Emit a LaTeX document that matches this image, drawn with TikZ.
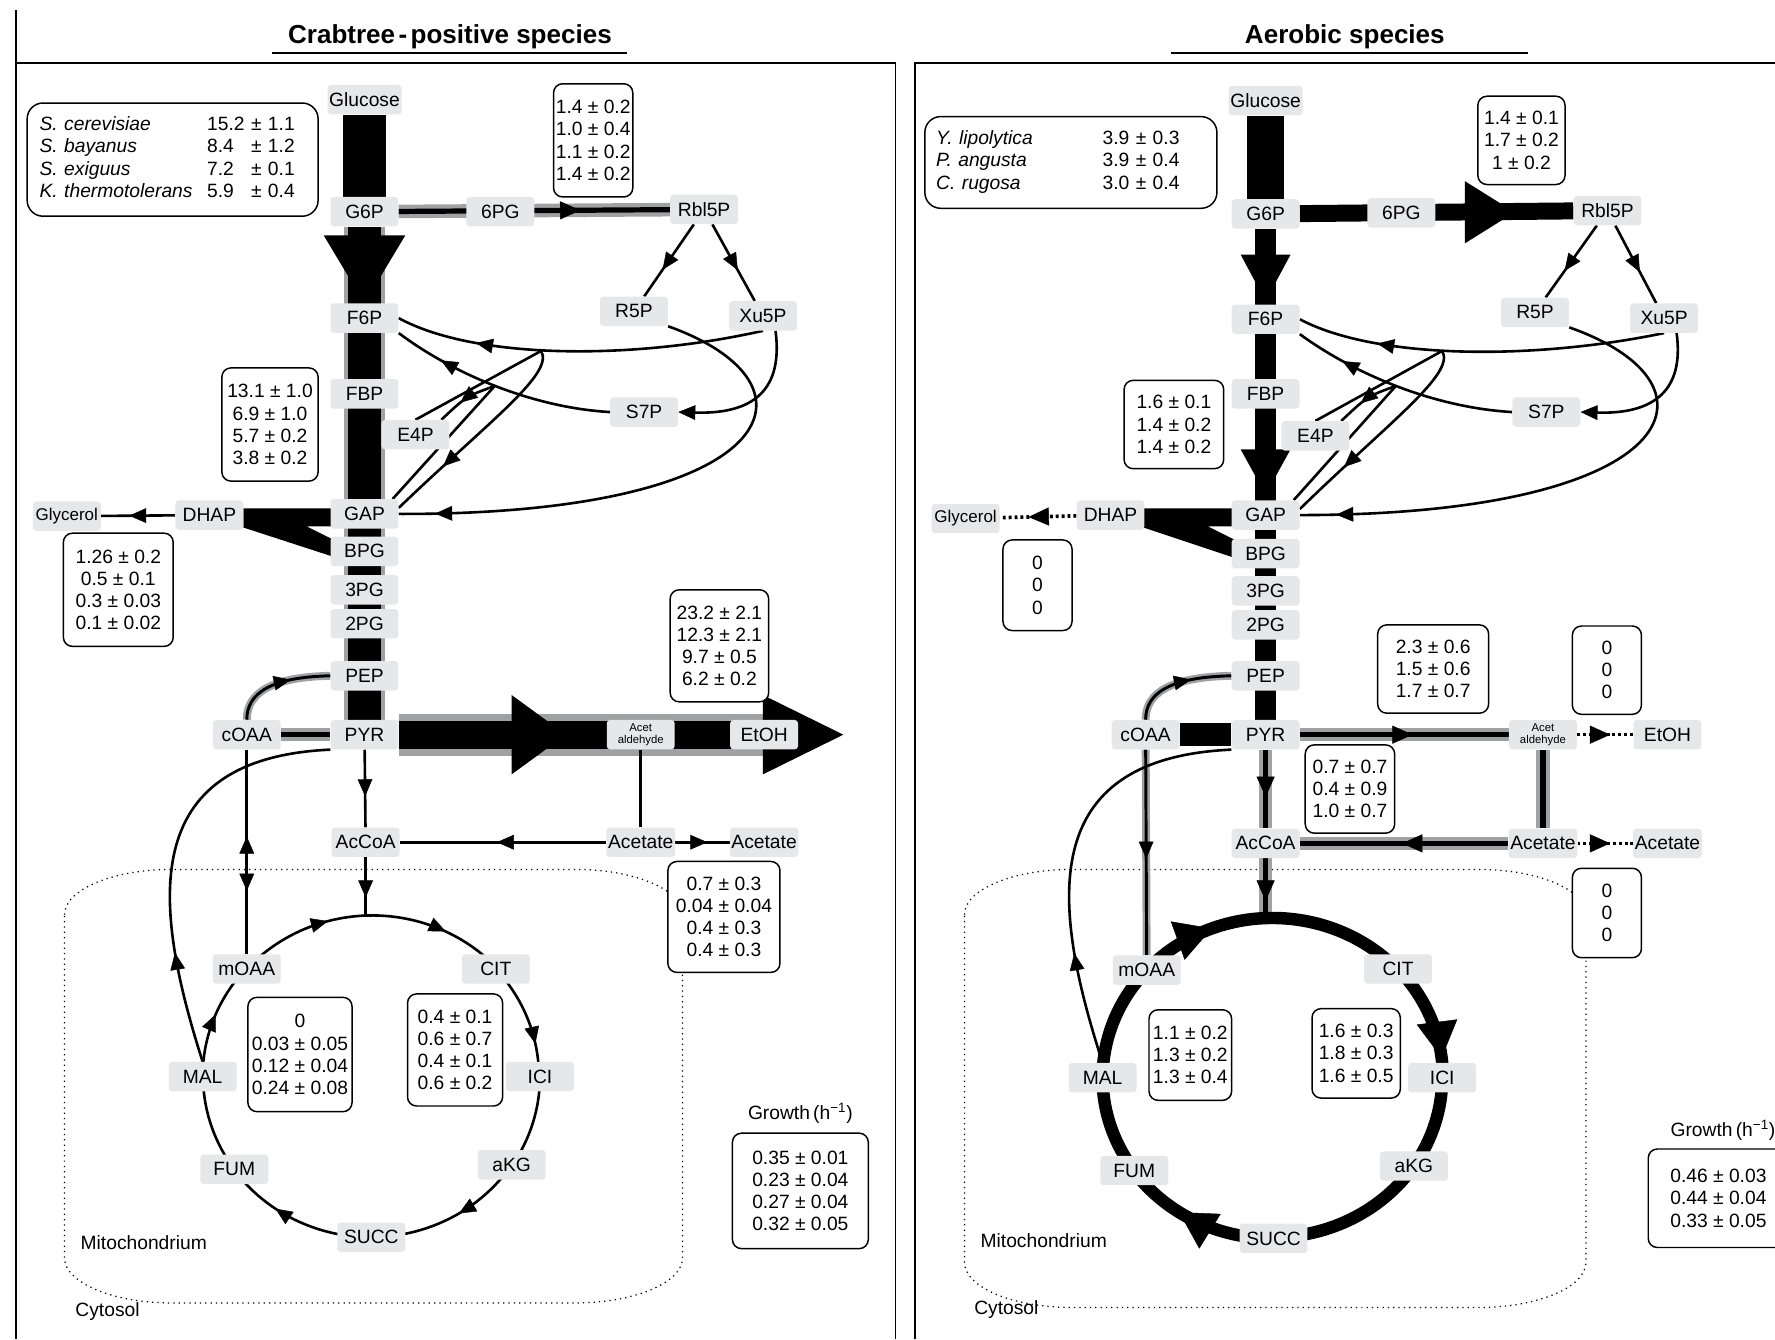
\documentclass[tikz,border=0pt]{standalone}
\usepackage{fontspec}
\setmainfont{Liberation Sans}
\usetikzlibrary{arrows.meta,decorations.markings}
\pgfdeclarelayer{bg}
\pgfsetlayers{bg,main}
\definecolor{labgray}{RGB}{230,231,232}
\definecolor{fluxgray}{RGB}{160,161,163}
\newcommand\fsz{\fontsize{17}{19.6}\selectfont}
\newcommand\pppnet[1]{%
  \coordinate (#1JA) at (478,310);
  \coordinate (#1JB) at (437,341);
  \draw[cn,a1,ma=0.63] (#1Rbl) -- (#1R5P);
  \draw[cn,a1,ma=0.6] (#1Rbl) -- (#1Xu5P);
  \draw[cn,a1,ma=0.78] (#1Xu5P.south) .. controls (560,318) and (420,318) .. (#1F6P.east);
  \draw[cn,a1,ma=0.78] (#1S7P.west) .. controls (470,360) and (400,330) .. (#1F6P.south east);
  \draw[cn,a1,->] (#1Xu5P.-50) .. controls (692,345) and (665,366) .. (#1S7P.east);
  \draw[cn,a1,ma=0.93] (#1R5P.south east) .. controls (735,340) and (690,455) .. (#1GAP.east);
  \draw[cn] (#1E4P.north) -- (#1JA);
  \draw[cn,a1,ma=0.72] (#1JA) .. controls (490,330) and (432,372) .. (#1GAP.10);
  \draw[cn] (#1GAP.28) -- (#1JB);
  \draw[cn,a1,ma=0.6] (#1JB) .. controls (412,350) .. (#1E4P.30);
}
\begin{document}
\begin{tikzpicture}[x=1pt,y=-1pt,
  lab/.style={fill=labgray,rounded corners=3pt,minimum width=60pt,minimum height=26pt,inner sep=1.5pt,font=\fsz},
  vb/.style={draw,line width=1.3pt,rounded corners=8pt,fill=white,align=center,inner sep=0pt,font=\fsz},
  cn/.style={draw,line width=2.3pt},
  gc/.style={draw,line width=4.6pt,preaction={draw=fluxgray,line width=12pt}},
  gct/.style={draw,line width=2.6pt,preaction={draw=fluxgray,line width=7pt}},
  dt/.style={draw,line width=3.2pt,dash pattern=on 2.6pt off 2.6pt},
  thk/.style={draw,line width=11pt},
  a1/.style={>={Triangle[length=15pt,width=13pt,line width=0.4pt]}},
  a2/.style={>={Triangle[length=18pt,width=16pt,line width=0.4pt]}},
  a3/.style={>={Triangle[length=32pt,width=36pt,line width=0.4pt]}},
  ma/.style={postaction={decorate,decoration={markings,mark=at position #1 with {\arrow{>}}}}},
  mr/.style={postaction={decorate,decoration={markings,mark=at position #1 with {\arrowreversed{>}}}}},
  mito/.style={draw,line width=1.1pt,dash pattern=on 1.1pt off 3.6pt},
  pframe/.style={draw,line width=1.6pt},
  txt/.style={font=\fsz},
  ttl/.style={font=\fontsize{23}{27}\selectfont\bfseries},
  glyc/.style={lab,font=\fontsize{15}{16}\selectfont},
]
\useasboundingbox (0,0) rectangle (1568,1183);
\clip (0,0) rectangle (1568,1183);

% ---------- frames and titles
\draw[pframe] (14,9) -- (14,1183);
\draw[pframe] (14,56) -- (791,56) -- (791,1183);
\draw[pframe] (808,1183) -- (808,56) -- (1568,56);
\node[ttl,anchor=base] (Lt) at (397.5,38) {Crabtree\hspace{3pt}-\hspace{3pt}positive species};
\node[ttl,anchor=base] (Rt) at (1188,38) {Aerobic species};
\draw[line width=1.8pt] (240,46.5) -- (554,46.5);
\draw[line width=1.8pt] (1034,46.5) -- (1350,46.5);

% ---------- left panel metabolite nodes
\node[lab] (LGlc) at (322,88) {Glucose};
\node[lab] (LG6P) at (322,187) {G6P};
\node[lab] (L6PG) at (442,187) {6PG};
\node[lab] (LRbl) at (622,185) {Rbl5P};
\node[lab] (LR5P) at (560,275) {R5P};
\node[lab] (LXu5P) at (674,279) {Xu5P};
\node[lab] (LF6P) at (322,281) {F6P};
\node[lab] (LFBP) at (322,348) {FBP};
\node[lab] (LS7P) at (569,364) {S7P};
\node[lab] (LE4P) at (367,384) {E4P};
\node[lab] (LGAP) at (322,454) {GAP};
\node[lab] (LDHAP) at (185,455) {DHAP};
\node[glyc] (LGly) at (59,456) {Glycerol};
\node[lab] (LBPG) at (322,487) {BPG};
\node[lab] (L3PG) at (322,521) {3PG};
\node[lab] (L2PG) at (322,551) {2PG};
\node[lab] (LPEP) at (322,597) {PEP};
\node[lab] (LcOAA) at (218,649) {cOAA};
\node[lab] (LPYR) at (322,649) {PYR};
\node[lab,align=center,font=\fontsize{10}{11}\selectfont] (LAcald) at (566,649) {Acet\\aldehyde};
\node[lab] (LEtOH) at (675,649) {EtOH};
\node[lab] (LAcCoA) at (323,744) {AcCoA};
\node[lab] (LAc) at (566,744) {Acetate};
\node[lab] (LAcx) at (675,744) {Acetate};
\node[lab] (LmOAA) at (218,856) {mOAA};
\node[lab] (LCIT) at (438,856) {CIT};
\node[lab] (LMAL) at (179,951) {MAL};
\node[lab] (LICI) at (477,951) {ICI};
\node[lab] (LFUM) at (207,1033) {FUM};
\node[lab] (LaKG) at (452,1029) {aKG};
\node[lab] (LSUCC) at (328,1093) {SUCC};
\coordinate (LTop) at (323,808);
\coordinate (LEtEnd) at (674,649);

% ---------- right panel metabolite nodes
\node[lab] (RGlc) at (1118,89) {Glucose};
\node[lab] (RG6P) at (1118,189) {G6P};
\node[lab] (R6PG) at (1238,188) {6PG};
\node[lab] (RRbl) at (1420,186) {Rbl5P};
\node[lab] (RR5P) at (1356,276) {R5P};
\node[lab] (RXu5P) at (1470,281) {Xu5P};
\node[lab] (RF6P) at (1118,282) {F6P};
\node[lab] (RFBP) at (1118,348) {FBP};
\node[lab] (RS7P) at (1366,364) {S7P};
\node[lab] (RE4P) at (1162,385) {E4P};
\node[lab] (RGAP) at (1118,455) {GAP};
\node[lab] (RDHAP) at (981,455) {DHAP};
\node[glyc] (RGly) at (853,458) {Glycerol};
\node[lab] (RBPG) at (1118,489) {BPG};
\node[lab] (R3PG) at (1118,522) {3PG};
\node[lab] (R2PG) at (1118,552) {2PG};
\node[lab] (RPEP) at (1118,597) {PEP};
\node[lab] (RcOAA) at (1012,649) {cOAA};
\node[lab] (RPYR) at (1118,649) {PYR};
\node[lab,align=center,font=\fontsize{10}{11}\selectfont] (RAcald) at (1363,649) {Acet\\aldehyde};
\node[lab] (REtOH) at (1473,649) {EtOH};
\node[lab] (RAcCoA) at (1118,745) {AcCoA};
\node[lab] (RAc) at (1363,745) {Acetate};
\node[lab] (RAcx) at (1473,745) {Acetate};
\node[lab] (RmOAA) at (1013,857) {mOAA};
\node[lab] (RCIT) at (1235,856) {CIT};
\node[lab] (RMAL) at (974,952) {MAL};
\node[lab] (RICI) at (1274,952) {ICI};
\node[lab] (RFUM) at (1002,1034) {FUM};
\node[lab] (RaKG) at (1249,1030) {aKG};
\node[lab] (RSUCC) at (1125,1094) {SUCC};
\coordinate (RTop) at (1118,811);

% ---------- left value boxes
\node[vb,rounded corners=14pt,minimum width=257pt,minimum height=100pt,text width=235pt,inner xsep=11pt,align=left] (Lsp) at (152.5,141) {%
\begin{tabular}{@{}p{148pt}@{}l@{\ }l@{}}
\textit{S. cerevisiae} & 15.2 & ± 1.1\\
\textit{S. bayanus} & 8.4 & ± 1.2\\
\textit{S. exiguus} & 7.2 & ± 0.1\\
\textit{K. thermotolerans} & 5.9 & ± 0.4
\end{tabular}};
\node[vb,minimum width=70pt,minimum height=100pt] (LvP) at (524,124) {1.4 ± 0.2\\1.0 ± 0.4\\1.1 ± 0.2\\1.4 ± 0.2};
\node[vb,minimum width=85pt,minimum height=100pt] (LvG) at (238.5,375) {13.1 ± 1.0\\6.9 ± 1.0\\5.7 ± 0.2\\3.8 ± 0.2};
\node[vb,minimum width=97pt,minimum height=100pt] (LvY) at (104.5,521) {1.26 ± 0.2\\0.5 ± 0.1\\0.3 ± 0.03\\0.1 ± 0.02};
\node[vb,minimum width=87pt,minimum height=99pt] (LvE) at (635.5,570.5) {23.2 ± 2.1\\12.3 ± 2.1\\9.7 ± 0.5\\6.2 ± 0.2};
\node[vb,minimum width=99pt,minimum height=98pt] (LvA) at (639.5,810) {0.7 ± 0.3\\0.04 ± 0.04\\0.4 ± 0.3\\0.4 ± 0.3};
\node[vb,minimum width=92pt,minimum height=101pt] (LvM) at (265,931.5) {0\\0.03 ± 0.05\\0.12 ± 0.04\\0.24 ± 0.08};
\node[vb,minimum width=84pt,minimum height=99pt] (LvC) at (402,927.5) {0.4 ± 0.1\\0.6 ± 0.7\\0.4 ± 0.1\\0.6 ± 0.2};
\node[vb,minimum width=120pt,minimum height=102pt] (LvR) at (707,1052) {0.35 ± 0.01\\0.23 ± 0.04\\0.27 ± 0.04\\0.32 ± 0.05};
\node[txt,anchor=base] (LGr) at (707,989) {Growth\,(h\textsuperscript{−1})};
\node[font=\fontsize{17}{19}\selectfont,anchor=base] (LMi) at (127,1104) {Mitochondrium};
\node[font=\fontsize{17}{19}\selectfont,anchor=base] (LCy) at (95,1163) {Cytosol};

% ---------- right value boxes
\node[vb,rounded corners=14pt,minimum width=258pt,minimum height=81pt,text width=238pt,inner xsep=10pt,align=left] (Rsp) at (946,143.5) {%
\begin{tabular}{@{}p{147pt}@{}l@{}}
\textit{Y. lipolytica} & 3.9 ± 0.3\\
\textit{P. angusta} & 3.9 ± 0.4\\
\textit{C. rugosa} & 3.0 ± 0.4
\end{tabular}};
\node[vb,minimum width=77pt,minimum height=78pt] (RvP) at (1344,124) {1.4 ± 0.1\\1.7 ± 0.2\\1 ± 0.2};
\node[vb,minimum width=88pt,minimum height=78pt] (RvG) at (1037,375) {1.6 ± 0.1\\1.4 ± 0.2\\1.4 ± 0.2};
\node[vb,minimum width=61pt,minimum height=80pt] (RvY) at (916.5,517) {0\\0\\0};
\node[vb,minimum width=98pt,minimum height=78pt] (RvE) at (1266,591) {2.3 ± 0.6\\1.5 ± 0.6\\1.7 ± 0.7};
\node[vb,minimum width=61pt,minimum height=78pt] (RvE0) at (1419.5,592) {0\\0\\0};
\node[vb,minimum width=79pt,minimum height=78pt] (RvK) at (1192.5,697) {0.7 ± 0.7\\0.4 ± 0.9\\1.0 ± 0.7};
\node[vb,minimum width=61pt,minimum height=79pt] (RvA0) at (1419.5,806.5) {0\\0\\0};
\node[vb,minimum width=73pt,minimum height=80pt] (RvM) at (1051.5,932) {1.1 ± 0.2\\1.3 ± 0.2\\1.3 ± 0.4};
\node[vb,minimum width=78pt,minimum height=79pt] (RvC) at (1198,930.5) {1.6 ± 0.3\\1.8 ± 0.3\\1.6 ± 0.5};
\node[vb,minimum width=124pt,minimum height=87pt] (RvR) at (1518,1058.5) {0.46 ± 0.03\\0.44 ± 0.04\\0.33 ± 0.05};
\node[txt,anchor=base] (RGr) at (1522,1004) {Growth\,(h\textsuperscript{−1})};
\node[font=\fontsize{17}{19}\selectfont,anchor=base] (RMi) at (922,1102) {Mitochondrium};
\node[font=\fontsize{17}{19}\selectfont,anchor=base] (RCy) at (889,1161) {Cytosol};

% ================= connectors (background)
\begin{pgfonlayer}{bg}
% mitochondrion outlines
\draw[mito] (57,808) arc[start angle=180,end angle=270,x radius=95,y radius=40] -- (508,768) arc[start angle=270,end angle=360,x radius=95,y radius=40] -- (603,1111) arc[start angle=0,end angle=90,x radius=95,y radius=40] -- (152,1151) arc[start angle=90,end angle=180,x radius=95,y radius=40] -- cycle;
\draw[mito] (852,808) arc[start angle=180,end angle=270,x radius=95,y radius=40] -- (1306,768) arc[start angle=270,end angle=360,x radius=95,y radius=40] -- (1401,1115) arc[start angle=0,end angle=90,x radius=95,y radius=40] -- (947,1155) arc[start angle=90,end angle=180,x radius=95,y radius=40] -- cycle;

% ----- left glycolysis / fermentation
\draw[line width=38pt] (LGlc) -- (LG6P);
\draw[fluxgray,line width=36pt] (LG6P) -- (LPYR);
\draw[fluxgray,line width=37pt] (LPYR) -- (LEtEnd);
\draw[line width=29pt] (LG6P) -- (LPYR);
\draw[line width=25pt] (LPYR) -- (LEtEnd);
\fill (286,208) -- (358,208) -- (322,268) -- cycle;
\fill (452,614) -- (500,649) -- (452,684) -- cycle;
\fill (674,614) -- (745,649) -- (674,684) -- cycle;
\fill (215,449) -- (295,449) -- (295,465) -- (271,465) -- (295,477) -- (295,492) -- (215,466) -- cycle;
\draw[gc,a2,ma=0.67] (LG6P) -- (LRbl);
\pppnet{L}
\draw[cn,a1,ma=0.62] (LDHAP) -- (LGly);
\draw[gct,a1,ma=0.62] (LcOAA.north) .. controls (218,612) and (240,598) .. (LPEP.west);
\draw[gc] (LcOAA) -- (LPYR);
\draw[cn,a1,ma=0.69,mr=0.425] (LcOAA) -- (LmOAA);
\draw[cn,a1,ma=0.27] (LMAL.north) .. controls (135,800) and (120,670) .. (LPYR.south west);
\draw[cn,a1,ma=0.6] (LPYR) -- (LAcCoA);
\draw[cn,a1,ma=0.7] (LAcCoA) -- (LTop);
\draw[cn] (LAcald) -- (LAc);
\draw[cn,a1,ma=0.53] (LAc) -- (LAcCoA);
\draw[cn,a1,ma=0.59] (LAc) -- (LAcx);
% left TCA cycle
\draw[cn,a1,ma=0.34,ma=0.77] (LmOAA.center) arc[start angle=221.9,end angle=318.1,x radius=149,y radius=142.5];
\draw[cn,a1,ma=0.72] (LCIT.center) arc[start angle=318.1,end angle=360,x radius=149,y radius=142.5];
\draw[cn] (LICI.center) arc[start angle=0,end angle=33.5,x radius=149,y radius=142.5];
\draw[cn,a1,ma=0.44] (LaKG.center) arc[start angle=33.5,end angle=90,x radius=149,y radius=142.5];
\draw[cn,a1,ma=0.64] (LSUCC.center) arc[start angle=90,end angle=144.5,x radius=149,y radius=142.5];
\draw[cn] (LFUM.center) arc[start angle=144.5,end angle=180,x radius=149,y radius=142.5];
\draw[cn,a1,ma=0.54] (LMAL.center) arc[start angle=180,end angle=221.9,x radius=149,y radius=142.5];

% ----- right glycolysis
\draw[line width=32pt] (RGlc) -- (RG6P);
\draw[line width=18pt] (RG6P) -- (RPYR);
\fill (1096,225) -- (1140,225) -- (1118,266) -- cycle;
\fill (1096,397) -- (1140,397) -- (1118,437) -- cycle;
\draw[line width=15pt] (RG6P) -- (RRbl);
\fill (1294,160) -- (1338,187.5) -- (1294,215) -- cycle;
\fill (1010,449) -- (1091,449) -- (1091,465) -- (1067,465) -- (1091,477) -- (1091,493) -- (1010,466) -- cycle;
\begin{scope}[xshift=796pt]
\pppnet{R}
\end{scope}
\draw[dt,a2,ma=0.625] (RDHAP) -- (RGly);
\draw[gct,a1,ma=0.62] (RcOAA.north) .. controls (1012,612) and (1034,598) .. (RPEP.west);
\draw[line width=20pt] (RcOAA) -- (RPYR);
\draw[gct,a1,ma=0.53] (RcOAA) -- (RmOAA);
\draw[cn,a1,ma=0.27] (RMAL.north) .. controls (929,800) and (914,670) .. (RPYR.south west);
\draw[gc,a2,ma=0.54] (RPYR) -- (RAcald);
\draw[dt,a2,ma=0.59] (RAcald) -- (REtOH);
\draw[gc] (RAcald) -- (RAc);
\draw[gc,a2,ma=0.51] (RAc) -- (RAcCoA);
\draw[dt,a2,ma=0.59] (RAc) -- (RAcx);
\draw[gc,a2,ma=0.6] (RPYR) -- (RAcCoA);
\draw[gc,a2,ma=0.71] (RAcCoA) -- (RTop);
% right TCA cycle (thick)
\draw[thk,a3,ma=0.28] (RmOAA.center) arc[start angle=222.3,end angle=317.4,x radius=150,y radius=141];
\draw[thk,a3,ma=0.84] (RCIT.center) arc[start angle=317.4,end angle=360,x radius=150,y radius=141];
\draw[thk] (RICI.center) arc[start angle=0,end angle=33.6,x radius=150,y radius=141];
\draw[thk] (RaKG.center) arc[start angle=33.6,end angle=89.6,x radius=150,y radius=141];
\draw[thk,a3,ma=0.62] (RSUCC.center) arc[start angle=89.6,end angle=144.4,x radius=150,y radius=141];
\draw[thk] (RFUM.center) arc[start angle=144.4,end angle=180,x radius=150,y radius=141];
\draw[thk] (RMAL.center) arc[start angle=180,end angle=222.3,x radius=150,y radius=141];
\end{pgfonlayer}
\end{tikzpicture}
\end{document}
